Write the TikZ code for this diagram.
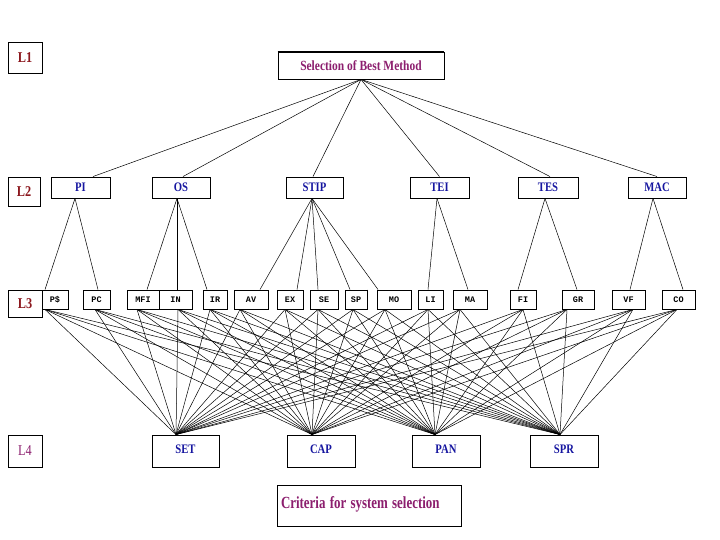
\documentclass[tikz,border=0pt]{standalone}
\usepackage{fontspec}
\setmainfont{Liberation Serif}
\newfontfamily\condserif[FakeStretch=0.82]{Liberation Serif}
\newfontfamily\monob{Liberation Mono}
\definecolor{lvlred}{RGB}{140,24,30}
\definecolor{lvlpurple}{RGB}{140,30,110}
\definecolor{nodeblue}{RGB}{22,22,160}
\tikzset{
  box/.style={draw, line width=0.9pt, inner sep=0pt, minimum height=21pt},
  lvl/.style={box, minimum width=34pt, font=\condserif\fontsize{15}{15}\selectfont\bfseries, text=lvlred},
  ltwo/.style={box, minimum height=21pt, font=\condserif\fontsize{13}{13}\selectfont\bfseries, text=nodeblue},
  lthree/.style={box, minimum height=19pt, font=\monob\fontsize{8.5}{8.5}\selectfont\bfseries},
  lfour/.style={box, minimum width=68pt, minimum height=32pt, font=\condserif\fontsize{13}{13}\selectfont\bfseries, text=nodeblue},
  edge/.style={line width=0.5pt, black}
}
\begin{document}
\begin{tikzpicture}[x=1pt,y=-1pt]
\fill[white] (0,0) rectangle (720,540);
\useasboundingbox (0,0) rectangle (720,540);
% level labels
\node[lvl, minimum height=31pt] (L1) at (25,57.5) {L1};
\node[lvl, minimum width=32pt, minimum height=29pt] (L2) at (24,191.5) {L2};
\node[lvl, minimum height=27pt] (L3) at (25,303.5) {L3};
\node[lvl, minimum height=32pt, text=lvlpurple, font=\condserif\fontsize{15}{15}\selectfont] (L4) at (25,451) {L4};
% goal
\node[box, minimum width=166pt, minimum height=27pt, text=lvlpurple,
      font=\condserif\fontsize{14}{14}\selectfont\bfseries] (sel) at (361,65.5) {Selection of Best Method};
\draw[line width=2pt] (sel.north west) -- (sel.north east);
% level 2
\node[ltwo, minimum width=59pt] (PI) at (80.5,187.5) {PI};
\node[ltwo, minimum width=58pt] (OS) at (181,187.5) {OS};
\node[ltwo, minimum width=57pt] (STIP) at (314.5,187.5) {STIP};
\node[ltwo, minimum width=59pt] (TEI) at (439.5,187.5) {TEI};
\node[ltwo, minimum width=60pt] (TES) at (548,187.5) {TES};
\node[ltwo, minimum width=58pt] (MAC) at (657,187.5) {MAC};
% level 3
\node[lthree, minimum width=26pt] (PS) at (55,299.5) {P\$};
\node[lthree, minimum width=27pt] (PC) at (96.5,299.5) {PC};
\node[lthree, minimum width=32pt] (MFI) at (143,299.5) {MFI};
\node[lthree, minimum width=33pt] (IN) at (175.5,299.5) {IN};
\node[lthree, minimum width=24pt] (IR) at (215,299.5) {IR};
\node[lthree, minimum width=34pt] (AV) at (251,299.5) {AV};
\node[lthree, minimum width=26pt] (EX) at (290,299.5) {EX};
\node[lthree, minimum width=28pt] (SE) at (324,299.5) {SE};
\node[lthree, minimum width=22pt] (SP) at (356,299.5) {SP};
\draw[line width=1.5pt] (SP.north east) -- (SP.south east);
\node[lthree, minimum width=34pt] (MO) at (394,299.5) {MO};
\node[lthree, minimum width=25pt] (LI) at (430.5,299.5) {LI};
\node[lthree, minimum width=34pt] (MA) at (470,299.5) {MA};
\node[lthree, minimum width=26pt] (FI) at (523,299.5) {FI};
\node[lthree, minimum width=32pt] (GR) at (578,299.5) {GR};
\node[lthree, minimum width=33pt] (VF) at (628.5,299.5) {VF};
\node[lthree, minimum width=33pt] (CO) at (678.5,299.5) {CO};
% level 4
\node[lfour, minimum width=67pt] (SET) at (185.5,451) {\raisebox{4pt}{SET}};
\node[lfour] (CAP) at (321,451) {\raisebox{4pt}{CAP}};
\node[lfour] (PAN) at (446,451) {\raisebox{4pt}{PAN}};
\node[lfour] (SPR) at (564,451) {\raisebox{4pt}{SPR}};
% criteria box
\node[box, minimum width=184pt, minimum height=41pt, text width=176pt, align=left,
      text=lvlpurple, font=\fontsize{17}{17}\selectfont\bfseries] (crit) at (369,505.5)
      {\raisebox{5pt}{\scalebox{0.76}[1]{Criteria for system selection}}};
% L1 -> L2
\foreach \n/\s in {PI/12.5, OS/2, STIP/-1.5, TEI/0, TES/2, MAC/0}
  \draw[edge] (sel.south) -- ([xshift=\s pt]\n.north);
% L2 -> L3
\foreach \p/\ps/\c/\cs in {PI/-5.5/PS/-10, PI/-5.5/PC/1.5,
    OS/-4/MFI/4, OS/-4/IN/1.5, OS/-4/IR/-8,
    STIP/-2.5/AV/9, STIP/-2.5/EX/7, STIP/-2.5/SE/-6, STIP/-2.5/SP/-6, STIP/-2.5/MO/-16,
    TEI/-2.5/LI/-2.5, TEI/-2.5/MA/-2,
    TES/-3/FI/-5, TES/-3/GR/-1,
    MAC/-4/VF/1.5, MAC/-4/CO/4.5}
  \draw[edge] ([xshift=\ps pt]\p.south) -- ([xshift=\cs pt]\c.north);
% L3 -> L4
\foreach \a/\as in {PS/-10, PC/-1.5, MFI/-6, IN/2.5, IR/-5, AV/-11, EX/-5, SE/-6, SP/-3,
    MO/-9, LI/-2.5, MA/-10, FI/0, GR/-11, VF/4.5, CO/-1.5}
  \foreach \b/\bs in {SET/-9.5, CAP/-9, PAN/-11, SPR/-4}
    \draw[edge] ([xshift=\as pt]\a.south) -- ([xshift=\bs pt]\b.north);
\end{tikzpicture}
\end{document}
